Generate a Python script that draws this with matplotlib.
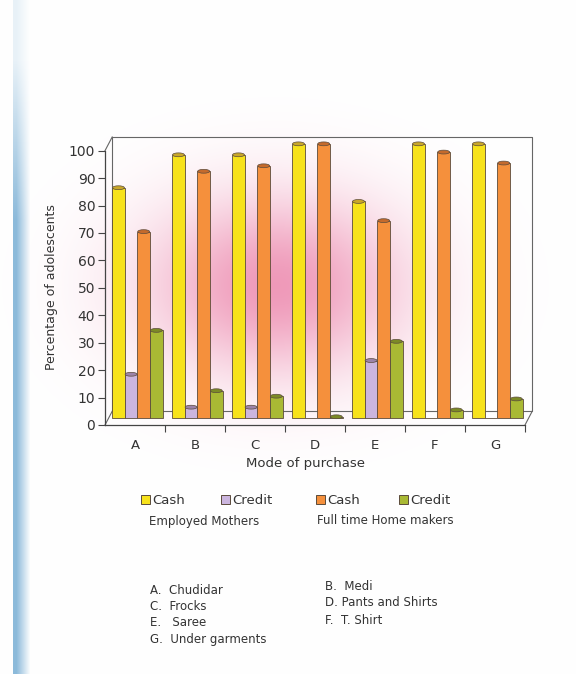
import numpy as np
import matplotlib
matplotlib.use("Agg")
import matplotlib.pyplot as plt
from matplotlib.patches import Ellipse, Rectangle

plt.rcParams['font.family'] = ['DejaVu Sans']

# Data: percentage of adolescents by mode of purchase
categories = ["A", "B", "C", "D", "E", "F", "G"]
em_cash = [84, 96, 96, 100, 79, 100, 100]
em_credit = [16, 4, 4, 0, 21, 0, 0]
hm_cash = [68, 90, 92, 100, 72, 97, 93]
hm_credit = [32, 10, 8, 0.5, 28, 3, 7]
series_names = ["Cash", "Credit", "Cash", "Credit"]
group_names = ["Employed Mothers", "Full time Home makers"]
item_notes = [("A.  Chudidar", "B.  Medi"),
              ("C.  Frocks", "D. Pants and Shirts"),
              ("E.   Saree", "F.  T. Shirt"),
              ("G.  Under garments", None)]

colors = ["#f7e21b", "#cbb5de", "#f5903c", "#a9b934"]
caps = ["#c9a72a", "#9c83a8", "#c46a2c", "#7c8a26"]
edge = "#5b4b3c"

W, H = 576, 674
fig = plt.figure(figsize=(W / 100, H / 100), dpi=100)


def fx(px):
    return px / W


def fy(py):
    return 1 - py / H


# page background: paper with a pink smudge and a blue binding strip
bg = fig.add_axes([0, 0, 1, 1], zorder=0)
bg.set_axis_off()
xx, yy = np.meshgrid(np.arange(W), np.arange(H))
img = np.ones((H, W, 3))
pink = np.array([0.90, 0.36, 0.56])
a = 0.62 * np.exp(-0.5 * ((xx - 275) / 90.0) ** 2 - 0.5 * ((yy - 285) / 62.0) ** 2)
img = img * (1 - a[..., None]) + pink * a[..., None]
blue = np.array([0.50, 0.70, 0.84])
strip = (xx >= 13) & (xx < 30)
b = np.where(strip, np.clip((30 - xx) / 14.0, 0, 1) * np.clip((yy - 20) / 200.0, 0.2, 1) * 0.9, 0)
img = img * (1 - b[..., None]) + blue * b[..., None]
bg.imshow(img, extent=[0, W, H, 0], aspect="auto")
bg.set_xlim(0, W)
bg.set_ylim(H, 0)

# main chart axes
ax = fig.add_axes([fx(105), fy(425), fx(525) - fx(105), (425 - 150.7) / H], zorder=1)
ax.patch.set_alpha(0)
ax.set_xlim(-0.5, 6.5)
ax.set_ylim(0, 100)

x = np.arange(len(categories))
bw = 0.21
base = 2.5
offs = (np.arange(4) - 1.5) * bw + 0.04
for i, vals in enumerate([em_cash, em_credit, hm_cash, hm_credit]):
    xs = x + offs[i]
    ax.bar(xs, vals, width=bw, bottom=base, color=colors[i], edgecolor=edge,
           linewidth=0.6, zorder=3, clip_on=False)
    for xi, v in zip(xs, vals):
        if v > 0:
            ax.add_patch(Ellipse((xi, base + v), bw * 0.95, 1.4, facecolor=caps[i],
                                 edgecolor=edge, linewidth=0.5, zorder=4, clip_on=False))

# 3D style frame
dx, dy = 0.12, 5
fc = "#666666"
lw = 0.8
ax.plot([-0.5 + dx, -0.5 + dx, 6.5 + dx, 6.5 + dx, -0.5 + dx],
        [dy, 100 + dy, 100 + dy, dy, dy], color=fc, lw=lw, clip_on=False, zorder=2)
ax.plot([-0.5, -0.5 + dx], [100, 100 + dy], color=fc, lw=lw, clip_on=False, zorder=2)
ax.plot([-0.5, -0.5 + dx], [0, dy], color=fc, lw=lw, clip_on=False, zorder=2)
ax.plot([6.5, 6.5 + dx], [0, dy], color=fc, lw=lw, clip_on=False, zorder=2)

for s in ["top", "right"]:
    ax.spines[s].set_visible(False)
for s in ["left", "bottom"]:
    ax.spines[s].set_color("#444444")
    ax.spines[s].set_linewidth(0.9)

ax.set_yticks(np.arange(0, 101, 10))
ax.tick_params(axis="y", direction="out", length=5, width=0.8, color="#444444",
               labelsize=10, labelcolor="#333333", pad=2)
ax.set_xticks(x)
ax.set_xticklabels(categories)
ax.set_xticks(np.arange(0.5, 6.6, 1), minor=True)
ax.tick_params(axis="x", which="major", length=0, labelsize=9.5, labelcolor="#333333", pad=10)
ax.tick_params(axis="x", which="minor", direction="out", length=5, width=0.8, color="#444444")

fig.text(fx(52), fy(287), "Percentage of adolescents", rotation=90, ha="center",
         va="center", fontsize=9, color="#333333")
fig.text(fx(305), fy(463), "Mode of purchase", ha="center", va="center",
         fontsize=9.5, color="#333333")

# legend
sq_x = [141, 221, 316, 399]
for i in range(4):
    fig.add_artist(Rectangle((fx(sq_x[i]), fy(504)), fx(9), 9 / H, transform=fig.transFigure,
                             facecolor=colors[i], edgecolor=edge, linewidth=0.7))
    fig.text(fx(sq_x[i] + 11), fy(500), series_names[i], ha="left", va="center",
             fontsize=9.5, color="#333333")
fig.text(fx(149), fy(522), group_names[0], ha="left", va="center", fontsize=8.5, color="#333333")
fig.text(fx(317), fy(521), group_names[1], ha="left", va="center", fontsize=8.5, color="#333333")

# key to the item codes
left_y = [590, 607, 623, 640]
right_y = [587, 603, 621]
for k, (lt, rt) in enumerate(item_notes):
    fig.text(fx(150), fy(left_y[k]), lt, ha="left", va="center", fontsize=8.5, color="#333333")
    if rt:
        fig.text(fx(325), fy(right_y[k]), rt, ha="left", va="center", fontsize=8.5, color="#333333")

fig.savefig("out.png", dpi=100)
